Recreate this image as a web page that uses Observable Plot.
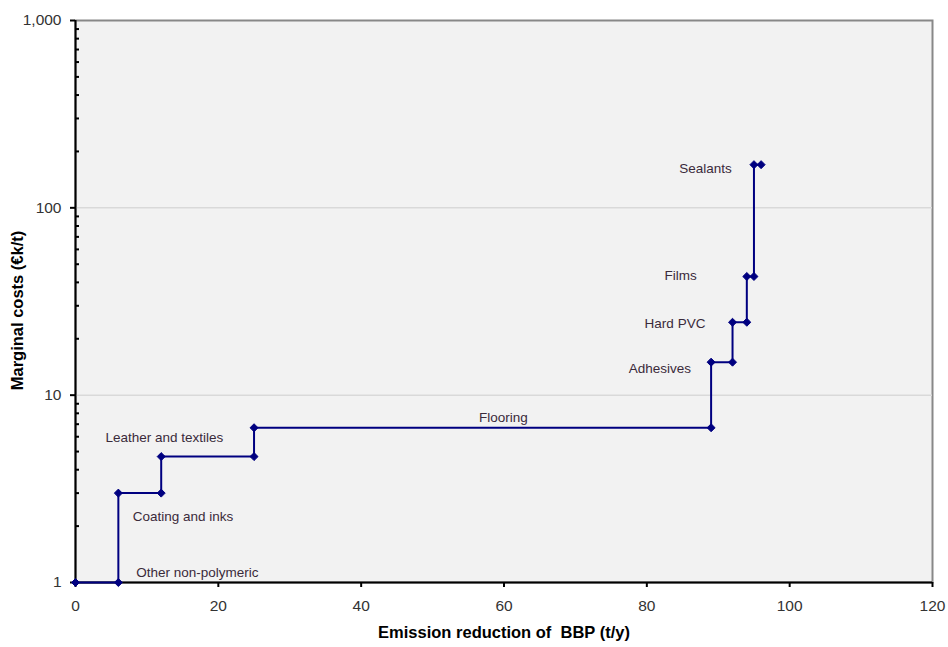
<!DOCTYPE html>
<html>
<head>
<meta charset="utf-8">
<script src="https://cdn.jsdelivr.net/npm/d3@7"></script>
<script src="https://cdn.jsdelivr.net/npm/@observablehq/plot@0.6"></script>
<style>
  html, body { margin: 0; padding: 0; background: #fff; }
  #chart svg { display: block; }
</style>
</head>
<body>
<div id="chart"></div>
<script>
// Step points of the cost curve (emission reduction t/y, marginal cost k€/t)
const stepX = [0, 6, 6, 12, 12, 25, 25, 89, 89, 92, 92, 94, 94, 95, 95, 96];
const stepY = [1, 1, 3, 3, 4.7, 4.7, 6.7, 6.7, 15, 15, 24.5, 24.5, 43, 43, 170, 170];

// Sector labels with their anchor location in data units
const labelText = ["Other non-polymeric", "Coating and inks", "Leather and textiles", "Flooring",
                   "Adhesives", "Hard PVC", "Films", "Sealants"];
const labelX = [8.5, 8.0, 4.2, 59.9, 86.2, 88.2, 87.0, 91.9];
const labelY = [1.13, 2.25, 5.94, 7.6, 13.9, 24.1, 43.5, 162];
const labelAnchor = ["start", "start", "start", "middle", "end", "end", "end", "end"];

const xTicks = [0, 20, 40, 60, 80, 100, 120];
const yTicks = [1, 10, 100, 1000];
const yMinor = [2,3,4,5,6,7,8,9,20,30,40,50,60,70,80,90,200,300,400,500,600,700,800,900];
const gridY = [10, 100];

const points = stepX.map((x, i) => ({x, y: stepY[i]}));
const labels = labelText.map((t, i) => ({t, x: labelX[i], y: labelY[i], a: labelAnchor[i]}));

const labelMark = (anchor) => Plot.text(labels.filter((d) => d.a === anchor), {
  x: "x", y: "y", text: "t", textAnchor: anchor, fontSize: 13.5, fill: "#3a2a3a"
});

const chart = Plot.plot({
  width: 948,
  height: 647,
  marginLeft: 75,
  marginRight: 16,
  marginTop: 20,
  marginBottom: 65,
  style: {fontFamily: "Liberation Sans, Arial, sans-serif", background: "#fff"},
  x: {domain: [0, 120], axis: null},
  y: {type: "log", domain: [1, 1000], axis: null},
  marks: [
    Plot.frame({fill: "#f2f2f2", stroke: "#888", strokeWidth: 2}),
    Plot.ruleY(gridY, {stroke: "#d9d9d9", strokeWidth: 1.5}),
    Plot.ruleY([1], {stroke: "#000", strokeWidth: 2}),
    Plot.ruleX([0], {stroke: "#000", strokeWidth: 2}),
    Plot.axisX({ticks: xTicks, tickSize: 5, tickPadding: 12, fontSize: 15.5, color: "#333", stroke: "#000", strokeWidth: 2, label: null}),
    Plot.axisY({ticks: yTicks, tickSize: 5, tickPadding: 9, fontSize: 15.5, tickFormat: d3.format(","), color: "#333", stroke: "#000", strokeWidth: 2, label: null}),
    Plot.axisY({ticks: yMinor, tickSize: -4, tickFormat: () => "", stroke: "#000", strokeWidth: 2, label: null}),
    Plot.line(points, {x: "x", y: "y", stroke: "#000080", strokeWidth: 2}),
    Plot.dot(points, {x: "x", y: "y", symbol: "diamond2", r: 3.6, fill: "#000080", stroke: "#000080", strokeWidth: 1}),
    labelMark("start"),
    labelMark("middle"),
    labelMark("end"),
    Plot.text(["Emission reduction of  BBP (t/y)"], {frameAnchor: "bottom", dy: 55, fontSize: 16.5, fontWeight: "bold", fill: "#000", text: (d) => d}),
    Plot.text(["Marginal costs (€k/t)"], {frameAnchor: "left", textAnchor: "middle", dx: -58, dy: 9, rotate: -90, fontSize: 16.5, fontWeight: "bold", fill: "#000", text: (d) => d})
  ]
});
document.getElementById("chart").appendChild(chart);
</script>
</body>
</html>
